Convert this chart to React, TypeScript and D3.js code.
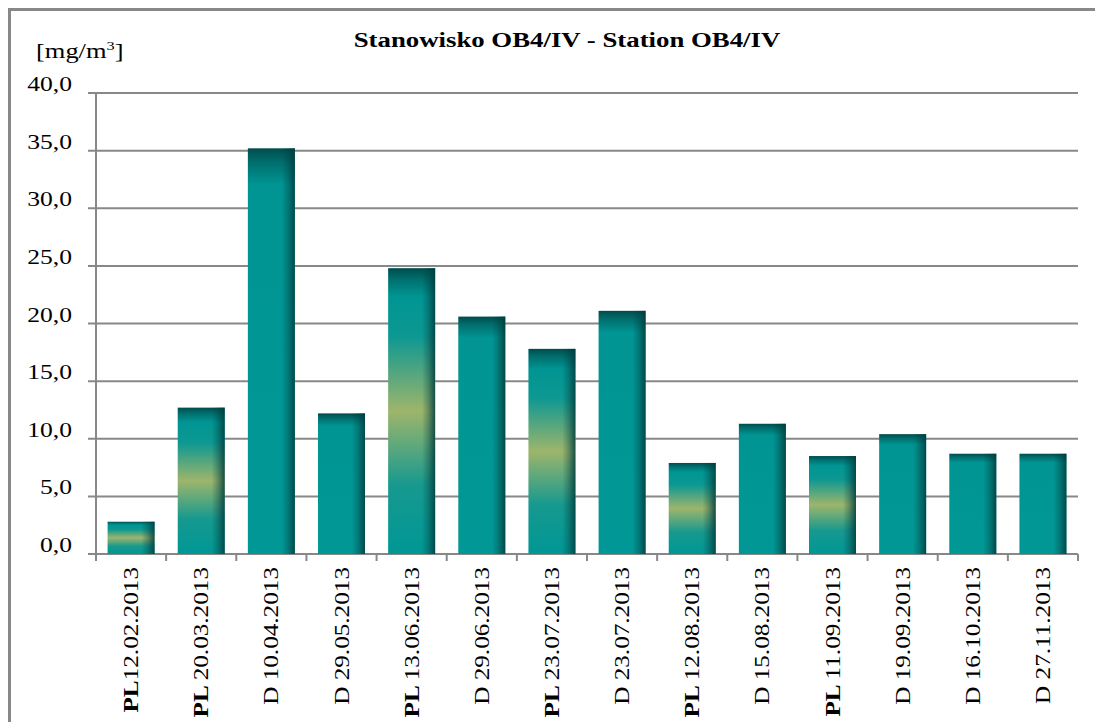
import React, { useEffect, useRef } from "react";
import * as d3 from "d3";

const categories = [
  "PL12.02.2013", "PL 20.03.2013", "D 10.04.2013", "D 29.05.2013", "PL 13.06.2013",
  "D 29.06.2013", "PL 23.07.2013", "D 23.07.2013", "PL 12.08.2013", "D 15.08.2013",
  "PL 11.09.2013", "D 19.09.2013", "D 16.10.2013", "D 27.11.2013",
];
const values = [2.8, 12.7, 35.2, 12.2, 24.8, 20.6, 17.8, 21.1, 7.9, 11.3, 8.5, 10.4, 8.7, 8.7];
const yTicks = [0, 5, 10, 15, 20, 25, 30, 35, 40];

const App = () => {
  const ref = useRef<SVGSVGElement>(null);

  useEffect(() => {
    const width = 1095, height = 722;
    const left = 96, right = 1078, top = 93, bottom = 554;
    const font = "'Liberation Serif', 'Times New Roman', serif";

    const svg = d3.select(ref.current);
    svg.selectAll("*").remove();
    svg.attr("width", width).attr("height", height);

    const defs = svg.append("defs");
    const gPL = defs.append("linearGradient").attr("id", "gPL").attr("x1", 0).attr("y1", 0).attr("x2", 0).attr("y2", 1);
    [[0, "#004c4c"], [0.04, "#00706f"], [0.1, "#009593"], [0.24, "#0d9892"], [0.5, "#9db56b"], [0.76, "#16998f"], [1, "#009795"]]
      .forEach(([o, c]) => gPL.append("stop").attr("offset", o as number).attr("stop-color", c as string));
    const gD = defs.append("linearGradient").attr("id", "gD").attr("x1", 0).attr("y1", 0).attr("x2", 0).attr("y2", 1);
    [[0, "#004c4c"], [0.035, "#006f6e"], [0.09, "#009593"], [1, "#009896"]]
      .forEach(([o, c]) => gD.append("stop").attr("offset", o as number).attr("stop-color", c as string));
    const gSide = defs.append("linearGradient").attr("id", "gSide").attr("x1", 0).attr("y1", 0).attr("x2", 1).attr("y2", 0);
    [[0, "#003c3c", 0], [0.72, "#003c3c", 0], [0.86, "#003c3c", 0.35], [1, "#003c3c", 0.85]]
      .forEach(([o, c, a]) => gSide.append("stop").attr("offset", o as number).attr("stop-color", c as string).attr("stop-opacity", a as number));

    // outer frame
    svg.append("rect").attr("x", 9.5).attr("y", 9.5).attr("width", width + 10).attr("height", height + 10)
      .attr("fill", "white").attr("stroke", "#888").attr("stroke-width", 3);

    const x = d3.scaleBand<string>().domain(categories).range([left, right]).paddingInner(0.33).paddingOuter(0.165);
    const xEdges = d3.scaleLinear().domain([0, categories.length]).range([left, right]);
    const y = d3.scaleLinear().domain([0, 40]).range([bottom, top]);

    // gridlines
    svg.append("g").selectAll("line").data(yTicks).join("line")
      .attr("x1", left - 8).attr("x2", right).attr("y1", d => y(d)).attr("y2", d => y(d))
      .attr("stroke", "#888").attr("stroke-width", 2);
    svg.append("line").attr("x1", left).attr("x2", left).attr("y1", top).attr("y2", bottom)
      .attr("stroke", "#888").attr("stroke-width", 2);
    svg.append("g").selectAll("line").data(d3.range(categories.length + 1)).join("line")
      .attr("x1", d => xEdges(d)).attr("x2", d => xEdges(d)).attr("y1", bottom).attr("y2", bottom + 7)
      .attr("stroke", "#888").attr("stroke-width", 2);

    // bars
    const bars = svg.append("g").selectAll("g").data(categories).join("g");
    bars.append("rect")
      .attr("x", d => x(d)!).attr("width", x.bandwidth())
      .attr("y", (d, i) => y(values[i])).attr("height", (d, i) => bottom - y(values[i]))
      .attr("fill", d => (d.startsWith("PL") ? "url(#gPL)" : "url(#gD)"));
    bars.append("rect")
      .attr("x", d => x(d)!).attr("width", x.bandwidth())
      .attr("y", (d, i) => y(values[i])).attr("height", (d, i) => bottom - y(values[i]))
      .attr("fill", "url(#gSide)");

    // y tick labels
    svg.append("g").selectAll("text").data(yTicks).join("text")
      .attr("transform", d => `translate(72,${y(d) - 2}) scale(1.22,1)`)
      .attr("text-anchor", "end").attr("font-family", font).attr("font-size", 21).attr("fill", "#000")
      .text(d => d.toFixed(1).replace(".", ","));

    // x labels: "PL" prefix bold, rest regular
    const xl = svg.append("g").selectAll("text").data(categories).join("text")
      .attr("transform", d => `translate(${x(d)! + x.bandwidth() / 2 + 7},567) rotate(-90) scale(1.2,1)`)
      .attr("text-anchor", "end").attr("font-family", font).attr("font-size", 21);
    xl.append("tspan").attr("font-weight", d => (d.startsWith("PL") ? "bold" : "normal"))
      .text(d => d.match(/^[A-Z]+ ?/)![0]);
    xl.append("tspan").text(d => d.replace(/^[A-Z]+ ?/, ""));

    // title
    svg.append("text").attr("transform", "translate(567,47) scale(1.34,1)")
      .attr("text-anchor", "middle").attr("font-family", font).attr("font-size", 20).attr("font-weight", "bold")
      .text("Stanowisko OB4/IV - Station OB4/IV");

    // unit
    const unit = svg.append("text").attr("transform", "translate(36,58) scale(1.26,1)")
      .attr("font-family", font).attr("font-size", 21);
    unit.append("tspan").text("[mg/m");
    unit.append("tspan").attr("font-size", 13).attr("dy", -8).text("3");
    unit.append("tspan").attr("dy", 8).text("]");
  }, []);

  return (
    <div style={{ position: "absolute", left: 0, top: 0 }}>
      <svg ref={ref} style={{ display: "block" }} />
    </div>
  );
};

export default App;
